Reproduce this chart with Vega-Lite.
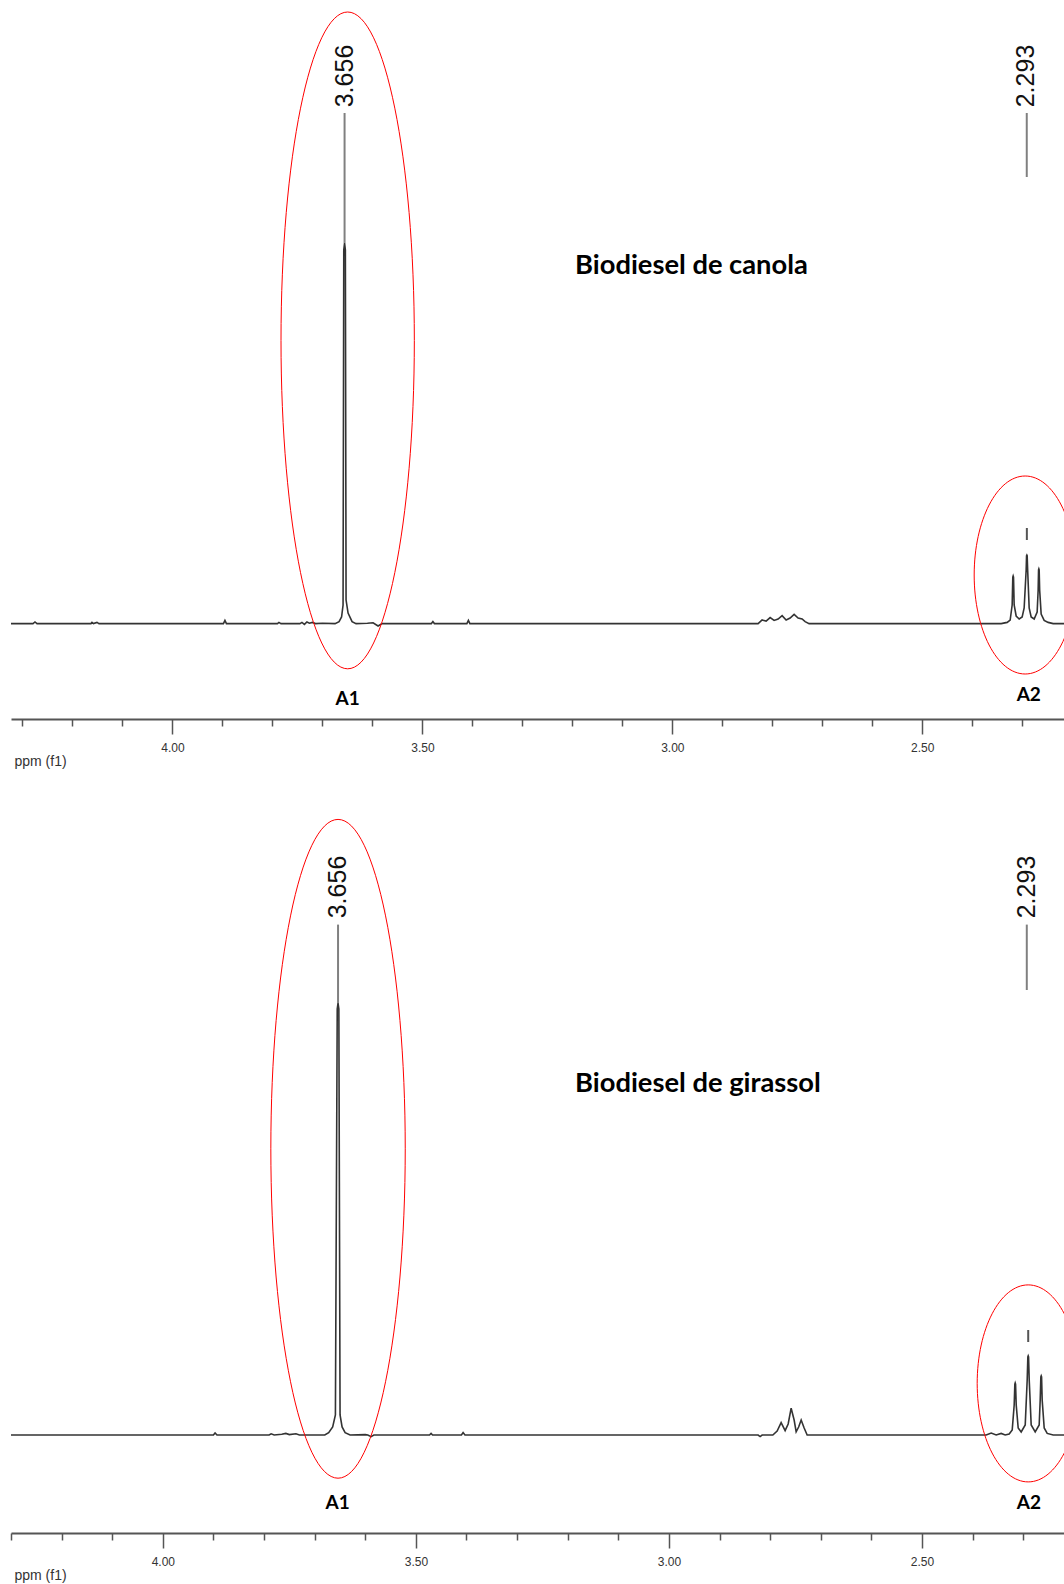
{
  "$schema": "https://vega.github.io/schema/vega-lite/v6.json",
  "padding": {"left": 7, "top": 0, "right": 0, "bottom": 4},
  "background": "white",
  "bounds": "flush",
  "spacing": 60,
  "config": {"view": {"stroke": null}},
  "datasets": {
    "canola": [
      {"ppm": 4.323, "i": 0}, {"ppm": 4.279, "i": 0}, {"ppm": 4.275, "i": 0.4}, {"ppm": 4.271, "i": 0},
      {"ppm": 4.163, "i": 0}, {"ppm": 4.161, "i": 0.3}, {"ppm": 4.158, "i": 0}, {"ppm": 4.151, "i": 0.3}, {"ppm": 4.147, "i": 0},
      {"ppm": 3.898, "i": 0}, {"ppm": 3.895, "i": 0.8}, {"ppm": 3.892, "i": 0},
      {"ppm": 3.79, "i": 0}, {"ppm": 3.787, "i": 0.3}, {"ppm": 3.783, "i": 0},
      {"ppm": 3.745, "i": 0}, {"ppm": 3.741, "i": 0.3}, {"ppm": 3.736, "i": -0.2}, {"ppm": 3.731, "i": 0.4}, {"ppm": 3.726, "i": 0.1}, {"ppm": 3.72, "i": 0.3}, {"ppm": 3.714, "i": 0}, {"ppm": 3.70, "i": 0.1},
      {"ppm": 3.6747, "i": 0}, {"ppm": 3.6667, "i": 0.5}, {"ppm": 3.6617, "i": 1.65}, {"ppm": 3.6587, "i": 4.65}, {"ppm": 3.6573, "i": 93.4},
      {"ppm": 3.6557, "i": 95.15},
      {"ppm": 3.6541, "i": 93.4}, {"ppm": 3.6527, "i": 5.9}, {"ppm": 3.6487, "i": 2.65}, {"ppm": 3.6407, "i": 0.5}, {"ppm": 3.6327, "i": 0},
      {"ppm": 3.61, "i": 0.1}, {"ppm": 3.5987, "i": 0.2}, {"ppm": 3.5887, "i": -0.6}, {"ppm": 3.5807, "i": 0},
      {"ppm": 3.482, "i": 0}, {"ppm": 3.479, "i": 0.5}, {"ppm": 3.476, "i": 0},
      {"ppm": 3.411, "i": 0}, {"ppm": 3.408, "i": 0.8}, {"ppm": 3.405, "i": 0},
      {"ppm": 2.8284, "i": 0}, {"ppm": 2.8204, "i": 0.9}, {"ppm": 2.8124, "i": 0.65}, {"ppm": 2.8044, "i": 1.5}, {"ppm": 2.7964, "i": 0.8}, {"ppm": 2.7884, "i": 1.15}, {"ppm": 2.7804, "i": 2.0}, {"ppm": 2.7724, "i": 0.9}, {"ppm": 2.7644, "i": 1.4}, {"ppm": 2.7564, "i": 2.3}, {"ppm": 2.7484, "i": 1.4}, {"ppm": 2.7404, "i": 1.15}, {"ppm": 2.7344, "i": 0.5}, {"ppm": 2.7264, "i": 0},
      {"ppm": 2.3422, "i": 0}, {"ppm": 2.3302, "i": 0.3}, {"ppm": 2.3242, "i": 0.9}, {"ppm": 2.3202, "i": 4.65}, {"ppm": 2.3189, "i": 11.6}, {"ppm": 2.3182, "i": 11.9}, {"ppm": 2.3175, "i": 11.6}, {"ppm": 2.3162, "i": 4.65}, {"ppm": 2.3122, "i": 1.9}, {"ppm": 2.3062, "i": 1.15},
      {"ppm": 2.3002, "i": 1.65}, {"ppm": 2.2962, "i": 3.9}, {"ppm": 2.2922, "i": 13.4}, {"ppm": 2.2914, "i": 17.0}, {"ppm": 2.2908, "i": 17.15}, {"ppm": 2.2902, "i": 17.0}, {"ppm": 2.2892, "i": 13.4}, {"ppm": 2.2862, "i": 3.9}, {"ppm": 2.2822, "i": 1.65}, {"ppm": 2.2762, "i": 1.15},
      {"ppm": 2.2702, "i": 2.9}, {"ppm": 2.2682, "i": 8.4}, {"ppm": 2.2674, "i": 13.4}, {"ppm": 2.2668, "i": 13.65}, {"ppm": 2.2662, "i": 13.4}, {"ppm": 2.2652, "i": 8.4}, {"ppm": 2.2622, "i": 2.4}, {"ppm": 2.2562, "i": 0.8}, {"ppm": 2.2482, "i": 0.3}, {"ppm": 2.2382, "i": 0}, {"ppm": 2.2145, "i": 0}
    ],
    "girassol": [
      {"ppm": 4.300, "i": 0},
      {"ppm": 3.900, "i": 0}, {"ppm": 3.8968, "i": 0.5}, {"ppm": 3.893, "i": 0},
      {"ppm": 3.79, "i": 0}, {"ppm": 3.786, "i": 0.3}, {"ppm": 3.78, "i": 0}, {"ppm": 3.765, "i": 0.2}, {"ppm": 3.757, "i": 0.4}, {"ppm": 3.75, "i": 0.1}, {"ppm": 3.737, "i": 0.3}, {"ppm": 3.73, "i": 0},
      {"ppm": 3.68, "i": 0}, {"ppm": 3.6723, "i": 0.6}, {"ppm": 3.6644, "i": 2.0}, {"ppm": 3.659, "i": 5.0}, {"ppm": 3.6554, "i": 106.5},
      {"ppm": 3.6538, "i": 108},
      {"ppm": 3.6522, "i": 106.5}, {"ppm": 3.6498, "i": 5}, {"ppm": 3.6458, "i": 2.0}, {"ppm": 3.6398, "i": 0.6}, {"ppm": 3.63, "i": 0},
      {"ppm": 3.60, "i": 0.1}, {"ppm": 3.595, "i": 0}, {"ppm": 3.5885, "i": -0.4}, {"ppm": 3.583, "i": 0},
      {"ppm": 3.473, "i": 0}, {"ppm": 3.470, "i": 0.4}, {"ppm": 3.467, "i": 0},
      {"ppm": 3.41, "i": 0}, {"ppm": 3.4067, "i": 0.6}, {"ppm": 3.403, "i": 0},
      {"ppm": 2.8238, "i": 0}, {"ppm": 2.8198, "i": -0.4}, {"ppm": 2.8158, "i": 0},
      {"ppm": 2.7947, "i": 0}, {"ppm": 2.7862, "i": 1.0}, {"ppm": 2.7783, "i": 3.1}, {"ppm": 2.7704, "i": 1.1}, {"ppm": 2.7644, "i": 2.75}, {"ppm": 2.7585, "i": 6.7}, {"ppm": 2.7526, "i": 3.75}, {"ppm": 2.7486, "i": 0.8}, {"ppm": 2.7437, "i": 2.0}, {"ppm": 2.7387, "i": 3.75}, {"ppm": 2.7328, "i": 1.75}, {"ppm": 2.7269, "i": 0},
      {"ppm": 2.3731, "i": 0}, {"ppm": 2.3632, "i": 0.5}, {"ppm": 2.3534, "i": 0}, {"ppm": 2.3435, "i": 0.4}, {"ppm": 2.3356, "i": 0}, {"ppm": 2.3277, "i": 0.25}, {"ppm": 2.3217, "i": 1.25},
      {"ppm": 2.3178, "i": 7.5}, {"ppm": 2.3165, "i": 12.7}, {"ppm": 2.3158, "i": 13}, {"ppm": 2.3151, "i": 12.7}, {"ppm": 2.3138, "i": 7.5}, {"ppm": 2.3099, "i": 1.75}, {"ppm": 2.3040, "i": 0.75},
      {"ppm": 2.2960, "i": 2.5}, {"ppm": 2.2921, "i": 13.75}, {"ppm": 2.2908, "i": 19.5}, {"ppm": 2.2901, "i": 19.75}, {"ppm": 2.2894, "i": 19.5}, {"ppm": 2.2881, "i": 13.75}, {"ppm": 2.2842, "i": 2.5}, {"ppm": 2.2763, "i": 0.75},
      {"ppm": 2.2684, "i": 2.5}, {"ppm": 2.2664, "i": 8.75}, {"ppm": 2.2651, "i": 14.5}, {"ppm": 2.2644, "i": 14.75}, {"ppm": 2.2637, "i": 14.5}, {"ppm": 2.2625, "i": 8.75}, {"ppm": 2.2585, "i": 1.75}, {"ppm": 2.2526, "i": 0.4}, {"ppm": 2.2407, "i": 0}, {"ppm": 2.2174, "i": 0}
    ],
    "notes": [
      {"panel": "canola", "kind": "leader", "ppm": 3.6557, "i": 127.65, "i2": 95.15},
      {"panel": "canola", "kind": "leader", "ppm": 2.291, "i": 127.65, "i2": 111.65},
      {"panel": "canola", "kind": "dash", "ppm": 2.2908, "i": 23.9, "i2": 20.9},
      {"panel": "canola", "kind": "peak", "ppm": 3.6557, "i": 136.9, "text": "3.656"},
      {"panel": "canola", "kind": "peak", "ppm": 2.292, "i": 136.9, "text": "2.293"},
      {"panel": "canola", "kind": "title", "ppm": 3.1946, "i": 89.5, "text": "Biodiesel de canola"},
      {"panel": "canola", "kind": "region", "ppm": 3.6495, "i": -18.9, "text": "A1"},
      {"panel": "canola", "kind": "region", "ppm": 2.287, "i": -17.9, "text": "A2"},
      {"panel": "canola", "kind": "ellipseA1", "ppm": 3.6495, "i": 70.8},
      {"panel": "canola", "kind": "ellipseA2", "ppm": 2.2942, "i": 12.15},
      {"panel": "girassol", "kind": "leader", "ppm": 3.6538, "i": 127.6, "i2": 108},
      {"panel": "girassol", "kind": "leader", "ppm": 2.2929, "i": 127.6, "i2": 111.25},
      {"panel": "girassol", "kind": "dash", "ppm": 2.2901, "i": 26.25, "i2": 23.25},
      {"panel": "girassol", "kind": "peak", "ppm": 3.6547, "i": 137, "text": "3.656"},
      {"panel": "girassol", "kind": "peak", "ppm": 2.2929, "i": 137, "text": "2.293"},
      {"panel": "girassol", "kind": "title", "ppm": 3.1854, "i": 87.7, "text": "Biodiesel de girassol"},
      {"panel": "girassol", "kind": "region", "ppm": 3.6547, "i": -17.1, "text": "A1"},
      {"panel": "girassol", "kind": "region", "ppm": 2.2889, "i": -17.1, "text": "A2"},
      {"panel": "girassol", "kind": "ellipseA1", "ppm": 3.6538, "i": 71.55},
      {"panel": "girassol", "kind": "ellipseA2", "ppm": 2.2901, "i": 12.9}
    ]
  },
  "vconcat": [
    {
      "width": 1054,
      "height": 719,
      "encoding": {
        "x": {"field": "ppm", "type": "quantitative",
          "scale": {"domain": [4.323, 2.2145], "nice": false, "zero": false},
          "axis": {
            "values": [4.3, 4.2, 4.1, 4.0, 3.9, 3.8, 3.7, 3.6, 3.5, 3.4, 3.3, 3.2, 3.1, 3.0, 2.9, 2.8, 2.7, 2.6, 2.5, 2.4, 2.3],
            "labelExpr": "abs(datum.value*2 - round(datum.value*2)) < 0.001 ? format(datum.value, '.2f') : ''",
            "tickSize": {"condition": {"test": "abs(datum.value*2 - round(datum.value*2)) < 0.001", "value": 15}, "value": 7},
            "tickColor": "#555", "tickWidth": 1.5, "domainColor": "#555", "domainWidth": 2,
            "labelFont": "Liberation Sans", "labelFontSize": 12, "labelColor": "#333", "labelPadding": 8,
            "labelOverlap": false, "labelFlush": false, "labelBound": false, "grid": false,
            "title": "ppm (f1)", "titleFont": "Liberation Sans", "titleFontSize": 14, "titleFontWeight": "normal", "titleColor": "#333",
            "titleAnchor": "start", "titleAlign": "left", "titleX": 3, "titleY": 42, "titleBaseline": "middle"
          }
        },
        "y": {"field": "i", "type": "quantitative", "scale": {"domain": [-23.85, 155.9], "nice": false, "zero": false}, "axis": null}
      },
      "layer": [
        {"data": {"name": "canola"}, "mark": {"type": "line", "color": "#333", "strokeWidth": 1.6}},
        {"data": {"name": "notes"}, "transform": [{"filter": "datum.panel === 'canola' && datum.kind === 'leader'"}],
          "mark": {"type": "rule", "color": "#808080", "strokeWidth": 2}, "encoding": {"y2": {"field": "i2"}}},
        {"data": {"name": "notes"}, "transform": [{"filter": "datum.panel === 'canola' && datum.kind === 'dash'"}],
          "mark": {"type": "rule", "color": "#555", "strokeWidth": 2}, "encoding": {"y2": {"field": "i2"}}},
        {"data": {"name": "notes"}, "transform": [{"filter": "datum.panel === 'canola' && datum.kind === 'peak'"}],
          "mark": {"type": "text", "angle": 270, "font": "Liberation Sans", "fontSize": 25, "color": "#111", "align": "center", "baseline": "middle"},
          "encoding": {"text": {"field": "text"}}},
        {"data": {"name": "notes"}, "transform": [{"filter": "datum.panel === 'canola' && datum.kind === 'title'"}],
          "mark": {"type": "text", "font": "Lato", "fontWeight": "bold", "fontSize": 27.3, "color": "#000", "align": "left", "baseline": "middle"},
          "encoding": {"text": {"field": "text"}}},
        {"data": {"name": "notes"}, "transform": [{"filter": "datum.panel === 'canola' && datum.kind === 'region'"}],
          "mark": {"type": "text", "font": "Lato", "fontWeight": "bold", "fontSize": 19, "color": "#000", "align": "center", "baseline": "middle"},
          "encoding": {"text": {"field": "text"}}},
        {"data": {"name": "notes"}, "transform": [{"filter": "datum.panel === 'canola' && datum.kind === 'ellipseA1'"}],
          "mark": {"type": "point", "clip": true, "shape": "M0,-1 A0.203,1 0 1,1 0,1 A0.203,1 0 1,1 0,-1 Z", "size": 431386, "filled": false, "stroke": "#ff0000", "strokeWidth": 1, "opacity": 1}},
        {"data": {"name": "notes"}, "transform": [{"filter": "datum.panel === 'canola' && datum.kind === 'ellipseA2'"}],
          "mark": {"type": "point", "clip": true, "shape": "M0,-1 A0.515,1 0 1,1 0,1 A0.515,1 0 1,1 0,-1 Z", "size": 39204, "filled": false, "stroke": "#ff0000", "strokeWidth": 1, "opacity": 1}}
      ]
    },
    {
      "width": 1054,
      "height": 754,
      "encoding": {
        "x": {"field": "ppm", "type": "quantitative",
          "scale": {"domain": [4.300, 2.2174], "nice": false, "zero": false},
          "axis": {
            "values": [4.3, 4.2, 4.1, 4.0, 3.9, 3.8, 3.7, 3.6, 3.5, 3.4, 3.3, 3.2, 3.1, 3.0, 2.9, 2.8, 2.7, 2.6, 2.5, 2.4, 2.3],
            "labelExpr": "abs(datum.value*2 - round(datum.value*2)) < 0.001 ? format(datum.value, '.2f') : ''",
            "tickSize": {"condition": {"test": "abs(datum.value*2 - round(datum.value*2)) < 0.001", "value": 15}, "value": 7},
            "tickColor": "#555", "tickWidth": 1.5, "domainColor": "#555", "domainWidth": 2,
            "labelFont": "Liberation Sans", "labelFontSize": 12, "labelColor": "#333", "labelPadding": 8,
            "labelOverlap": false, "labelFlush": false, "labelBound": false, "grid": false,
            "title": "ppm (f1)", "titleFont": "Liberation Sans", "titleFontSize": 14, "titleFontWeight": "normal", "titleColor": "#333",
            "titleAnchor": "start", "titleAlign": "left", "titleX": 3, "titleY": 42, "titleBaseline": "middle"
          }
        },
        "y": {"field": "i", "type": "quantitative", "scale": {"domain": [-24.5, 164], "nice": false, "zero": false}, "axis": null}
      },
      "layer": [
        {"data": {"name": "girassol"}, "mark": {"type": "line", "color": "#333", "strokeWidth": 1.6}},
        {"data": {"name": "notes"}, "transform": [{"filter": "datum.panel === 'girassol' && datum.kind === 'leader'"}],
          "mark": {"type": "rule", "color": "#808080", "strokeWidth": 2}, "encoding": {"y2": {"field": "i2"}}},
        {"data": {"name": "notes"}, "transform": [{"filter": "datum.panel === 'girassol' && datum.kind === 'dash'"}],
          "mark": {"type": "rule", "color": "#555", "strokeWidth": 2}, "encoding": {"y2": {"field": "i2"}}},
        {"data": {"name": "notes"}, "transform": [{"filter": "datum.panel === 'girassol' && datum.kind === 'peak'"}],
          "mark": {"type": "text", "angle": 270, "font": "Liberation Sans", "fontSize": 25, "color": "#111", "align": "center", "baseline": "middle"},
          "encoding": {"text": {"field": "text"}}},
        {"data": {"name": "notes"}, "transform": [{"filter": "datum.panel === 'girassol' && datum.kind === 'title'"}],
          "mark": {"type": "text", "font": "Lato", "fontWeight": "bold", "fontSize": 27.3, "color": "#000", "align": "left", "baseline": "middle"},
          "encoding": {"text": {"field": "text"}}},
        {"data": {"name": "notes"}, "transform": [{"filter": "datum.panel === 'girassol' && datum.kind === 'region'"}],
          "mark": {"type": "text", "font": "Lato", "fontWeight": "bold", "fontSize": 19, "color": "#000", "align": "center", "baseline": "middle"},
          "encoding": {"text": {"field": "text"}}},
        {"data": {"name": "notes"}, "transform": [{"filter": "datum.panel === 'girassol' && datum.kind === 'ellipseA1'"}],
          "mark": {"type": "point", "clip": true, "shape": "M0,-1 A0.204,1 0 1,1 0,1 A0.204,1 0 1,1 0,-1 Z", "size": 434017, "filled": false, "stroke": "#ff0000", "strokeWidth": 1, "opacity": 1}},
        {"data": {"name": "notes"}, "transform": [{"filter": "datum.panel === 'girassol' && datum.kind === 'ellipseA2'"}],
          "mark": {"type": "point", "clip": true, "shape": "M0,-1 A0.518,1 0 1,1 0,1 A0.518,1 0 1,1 0,-1 Z", "size": 38809, "filled": false, "stroke": "#ff0000", "strokeWidth": 1, "opacity": 1}}
      ]
    }
  ]
}
